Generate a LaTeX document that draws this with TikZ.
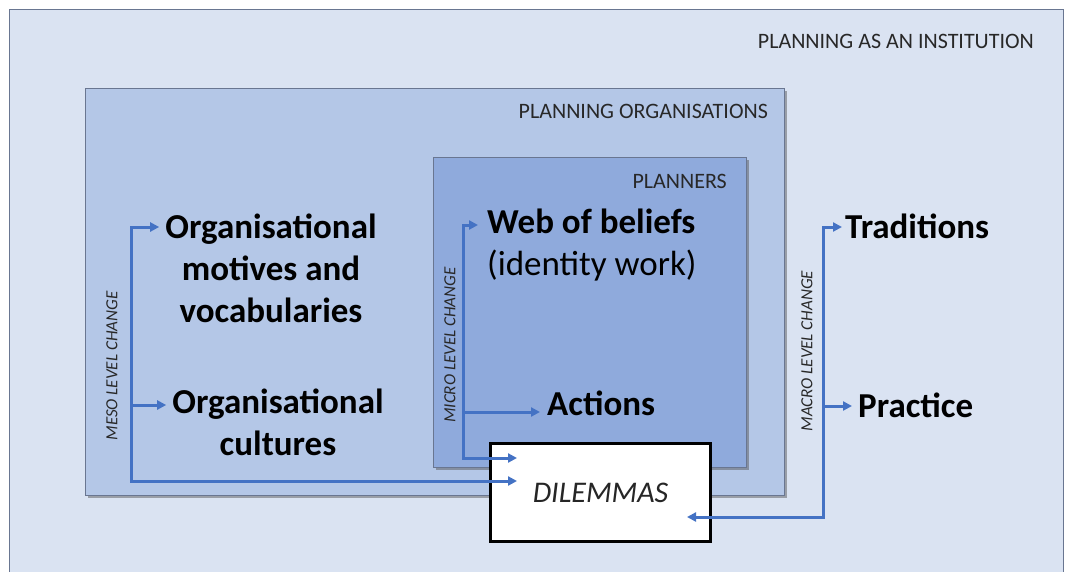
\documentclass[tikz,border=0pt]{standalone}
\usepackage{fontspec}
\setmainfont{Carlito}
\usetikzlibrary{arrows.meta,shadows}
\definecolor{outerfill}{RGB}{218,227,242}
\definecolor{orgfill}{RGB}{180,199,231}
\definecolor{plfill}{RGB}{143,170,220}
\definecolor{boxline}{RGB}{105,118,145}
\definecolor{arrowblue}{RGB}{68,114,196}
\definecolor{labelgray}{RGB}{40,40,40}
\tikzset{
  box/.style={draw=boxline,line width=1pt,anchor=north west,inner sep=0pt,
    drop shadow={shadow xshift=2.5pt,shadow yshift=-2.5pt,opacity=0.45,fill=black!70}},
  boxlabel/.style={font=\fontsize{22}{26}\selectfont,text=labelgray,inner sep=0pt,anchor=base east},
  big/.style={font=\fontsize{35}{42}\selectfont\bfseries,text=black,inner sep=0pt},
  rotlabel/.style={font=\fontsize{17}{20}\selectfont\itshape,text=labelgray,rotate=90,inner sep=0pt},
  tip/.tip={Triangle[length=9pt,width=9pt]},
  arr/.style={draw=arrowblue,line width=3pt,-tip},
  arrtwo/.style={draw=arrowblue,line width=3pt,tip-tip},
  dilbox/.style={draw=black,line width=3pt,fill=white,minimum width=220pt,minimum height=98pt,
    font=\fontsize{30}{36}\selectfont\itshape,text=black!85,inner sep=0pt}
}
\begin{document}
\begin{tikzpicture}[x=1pt,y=-1pt]
\useasboundingbox (0,0) rectangle (1067,571);
\clip (0,0) rectangle (1067,571);
\fill[white] (0,0) rectangle (1067,571);
% boxes
\node[draw=boxline,line width=1.2pt,fill=outerfill,anchor=north west,inner sep=0pt,
  minimum width=1054pt,minimum height=620pt] (instbox) at (9,9) {};
\node[boxlabel] (instlbl) at (1034,48) {PLANNING AS AN INSTITUTION};
\node[box,fill=orgfill,minimum width=699pt,minimum height=407pt] (orgbox) at (85,88) {};
\node[boxlabel] (orglbl) at (768,118) {PLANNING ORGANISATIONS};
\node[box,fill=plfill,minimum width=313pt,minimum height=310pt] (plbox) at (433,157) {};
\node[boxlabel] (pllbl) at (727,188) {PLANNERS};
% dilemmas
\node[dilbox] (dil) at (600.5,492.5) {DILEMMAS};
% texts
\node[big,align=center,anchor=base] (orgmot) at (271,322) {Organisational\\motives and\\vocabularies};
\node[big,align=center,anchor=base] (orgcul) at (278,455) {Organisational\\cultures};
\node[big,align=left,anchor=base west] (web) at (487,275) {Web of beliefs\\\mdseries(identity work)};
\node[big,anchor=base west] (actions) at (547,415) {Actions};
\node[big,anchor=base west] (trad) at (845,238) {Traditions};
\node[big,anchor=base west] (prac) at (858,417) {Practice};
% rotated labels
\node[rotlabel] (mesolbl) at (112,366) {MESO LEVEL CHANGE};
\node[rotlabel] (microlbl) at (450,345) {MICRO LEVEL CHANGE};
\node[rotlabel] (macrolbl) at (807,351) {MACRO LEVEL CHANGE};
% spine coordinates
\coordinate (mesoT) at (131,227);
\coordinate (mesoM) at (131,405);
\coordinate (mesoB) at (131,481);
\coordinate (microT) at (463,225);
\coordinate (microM) at (463,412);
\coordinate (microB) at (463,458);
\coordinate (macroT) at (823,227);
\coordinate (macroM) at (823,406);
\coordinate (macroB) at (823,517);
% connectors
\draw[arrtwo] ([xshift=-6pt]orgmot.west |- mesoT) -| (mesoB) -- ([xshift=28pt]dil.west |- mesoB);
\draw[arr] (mesoM) -- ([xshift=-6pt]orgcul.west |- mesoM);
\draw[arrtwo] ([xshift=-9pt]web.west |- microT) -| (microB) -- ([xshift=28pt]dil.west |- microB);
\draw[arr] (microM) -- ([xshift=-7pt]actions.west |- microM);
\draw[arrtwo] ([xshift=-3pt]trad.west |- macroT) -| (macroB) -- ([xshift=-25pt]dil.east |- macroB);
\draw[arr] (macroM) -- ([xshift=-6pt]prac.west |- macroM);
\end{tikzpicture}
\end{document}
